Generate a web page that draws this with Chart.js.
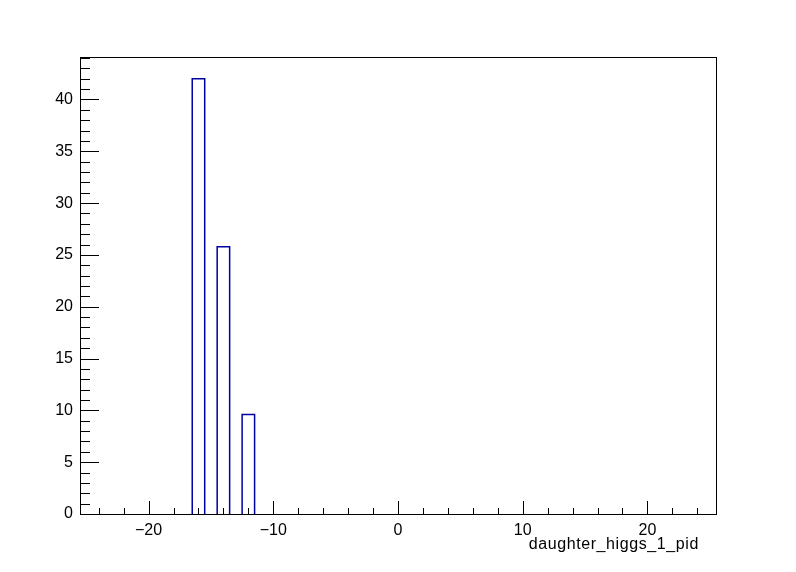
<!DOCTYPE html>
<html>
<head>
<meta charset="utf-8">
<script src="https://cdn.jsdelivr.net/npm/chart.js@4/dist/chart.umd.min.js"></script>
<style>
  html, body { margin: 0; padding: 0; background: #fff; }
  #wrap { width: 796px; height: 572px; }
</style>
</head>
<body>
<div id="wrap"><canvas id="hist"></canvas></div>
<script>
// Histogram data (51 bins of width 1, centred on integers)
const xMin = -25.5;
const xMax = 25.5;
const binCenters = [-16, -14, -12];
const binCounts = [42, 25.8, 9.6];
const xTickLabels = [-20, -10, 0, 10, 20];
const yMax = 44.1;
const axisTitle = 'daughter_higgs_1_pid';

// build step outline points from the bins
function buildSteps() {
    const pts = [{ x: xMin, y: 0 }];
    binCenters.forEach((c, i) => {
        pts.push({ x: c - 0.5, y: 0 });
        pts.push({ x: c - 0.5, y: binCounts[i] });
        pts.push({ x: c + 0.5, y: binCounts[i] });
        pts.push({ x: c + 0.5, y: 0 });
    });
    pts.push({ x: xMax, y: 0 });
    return pts;
}

const FONT = '"Liberation Sans", Arial, sans-serif';

// frame + inside ticks like ROOT
const frameTicks = {
    id: 'frameTicks',
    afterDraw(chart) {
        const { ctx, chartArea: a, scales } = chart;
        ctx.save();
        ctx.strokeStyle = '#000';
        ctx.lineWidth = 1;
        ctx.strokeRect(a.left + 0.5, a.top + 0.5, a.right - a.left, a.bottom - a.top);
        ctx.beginPath();
        for (let v = -24; v <= 24; v += 2) {
            const px = Math.round(scales.x.getPixelForValue(v)) + 0.5;
            const len = v % 10 === 0 ? 13 : 6;
            ctx.moveTo(px, a.bottom);
            ctx.lineTo(px, a.bottom - len);
        }
        for (let v = 1; v <= Math.floor(yMax); v++) {
            const py = Math.round(scales.y.getPixelForValue(v)) + 0.5;
            const len = v % 5 === 0 ? 19 : 10;
            ctx.moveTo(a.left, py);
            ctx.lineTo(a.left + len, py);
        }
        ctx.stroke();
        // axis title, right aligned
        ctx.fillStyle = '#000';
        ctx.font = '16px ' + FONT;
        ctx.letterSpacing = '0.6px';
        ctx.textAlign = 'right';
        ctx.textBaseline = 'alphabetic';
        ctx.fillText(axisTitle, a.right - 17, a.bottom + 35);
        ctx.restore();
    }
};

new Chart(document.getElementById('hist'), {
    type: 'line',
    data: {
        datasets: [{
            data: buildSteps(),
            borderColor: '#0000a0',
            borderWidth: 1.5,
            pointRadius: 0,
            fill: false,
            tension: 0,
            segment: {
                // the baseline is hidden under the frame in the original
                borderColor: c => (c.p0.parsed.y === 0 && c.p1.parsed.y === 0) ? 'rgba(0,0,0,0)' : undefined
            }
        }]
    },
    options: {
        responsive: true,
        maintainAspectRatio: false,
        animation: false,
        layout: { padding: { top: 57, right: 80, left: 0, bottom: 0 } },
        plugins: { legend: { display: false }, tooltip: { enabled: false } },
        scales: {
            x: {
                type: 'linear',
                min: xMin,
                max: xMax,
                grid: { display: false, drawTicks: false },
                border: { display: false },
                afterFit: s => { s.height = 58; },
                afterBuildTicks: s => { s.ticks = xTickLabels.map(v => ({ value: v })); },
                ticks: {
                    padding: 7,
                    color: '#000',
                    font: { family: FONT, size: 16 },
                    maxRotation: 0,
                    callback: v => String(v).replace('-', '\u2212')
                }
            },
            y: {
                min: 0,
                max: yMax,
                grid: { display: false, drawTicks: false },
                border: { display: false },
                afterFit: s => { s.width = 80; },
                ticks: {
                    stepSize: 5,
                    includeBounds: false,
                    padding: 7,
                    color: '#000',
                    font: { family: FONT, size: 16 }
                }
            }
        }
    },
    plugins: [frameTicks]
});
</script>
</body>
</html>
